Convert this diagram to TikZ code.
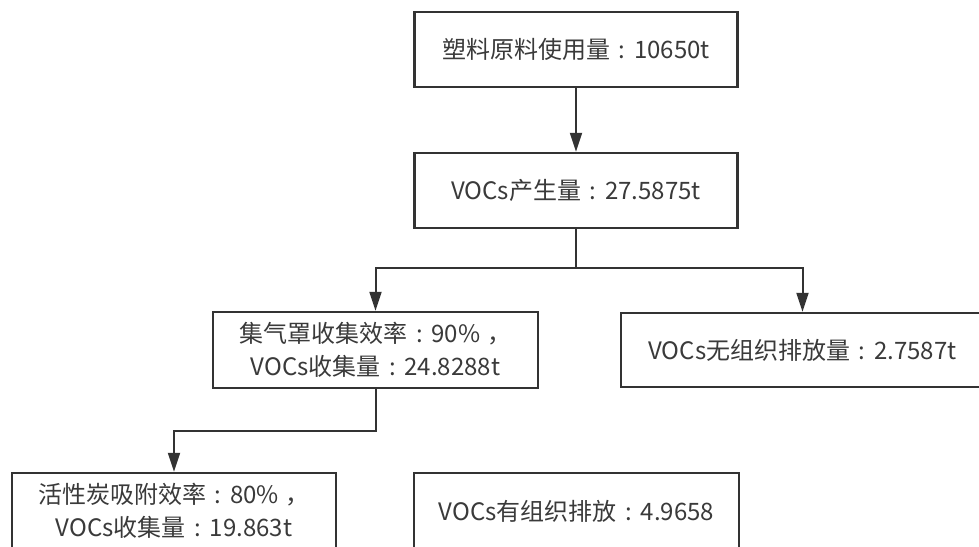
\documentclass[tikz,border=0pt]{standalone}
\usepackage{fontspec}
\setmainfont{Noto Sans CJK SC}
\usetikzlibrary{arrows.meta}
\definecolor{ink}{HTML}{333333}
\definecolor{txt}{HTML}{3A3A3A}
\newcommand{\colonc}{\makebox[1em][c]{:}}
\newcommand{\commac}{\hspace{0.3em}，}
\tikzset{
  box/.style={draw=ink, line width=2.4pt, fill=white, rectangle, inner sep=0pt,
              text=txt, font=\fontsize{24}{33}\selectfont, align=center},
  link/.style={draw=ink, line width=2pt},
  arr/.style={link, -{Triangle[length=19pt,width=12pt]}}
}
\begin{document}
\begin{tikzpicture}[x=1pt,y=-1pt]
\useasboundingbox (0,0) rectangle (979,546);
\clip (0,0) rectangle (979,546);
\fill[white] (0,0) rectangle (979,546);
\node[box, minimum width=323pt, minimum height=75pt] (b1) at (576,49.5) {塑料原料使用量\colonc 10650t};
\node[box, minimum width=323pt, minimum height=75pt] (b2) at (576,190.5) {VOCs产生量\colonc 27.5875t};
\node[box, minimum width=325pt, minimum height=76pt] (b3) at (375.5,350) {集气罩收集效率\colonc 90\%\commac\\VOCs收集量\colonc 24.8288t};
\node[box, minimum width=363pt, minimum height=74pt] (b4) at (802.5,350) {VOCs无组织排放量\colonc 2.7587t};
\node[box, minimum width=324pt, minimum height=76pt] (b5) at (174,511) {活性炭吸附效率\colonc 80\%\commac\\VOCs收集量\colonc 19.863t};
\node[box, minimum width=325pt, minimum height=76pt] (b6) at (576.5,511) {VOCs有组织排放\colonc 4.9658};
\coordinate (j1) at (576,268);
\coordinate (j2) at (0,431);
\draw[arr] (b1.south) -- (b2.north);
\draw[link] (b2.south) -- (j1);
\draw[arr] (j1) -| (b3.north);
\draw[arr] (j1) -| (b4.north);
\draw[arr] (b3.south) -- (b3.south |- j2) -| (b5.north);
\end{tikzpicture}
\end{document}
